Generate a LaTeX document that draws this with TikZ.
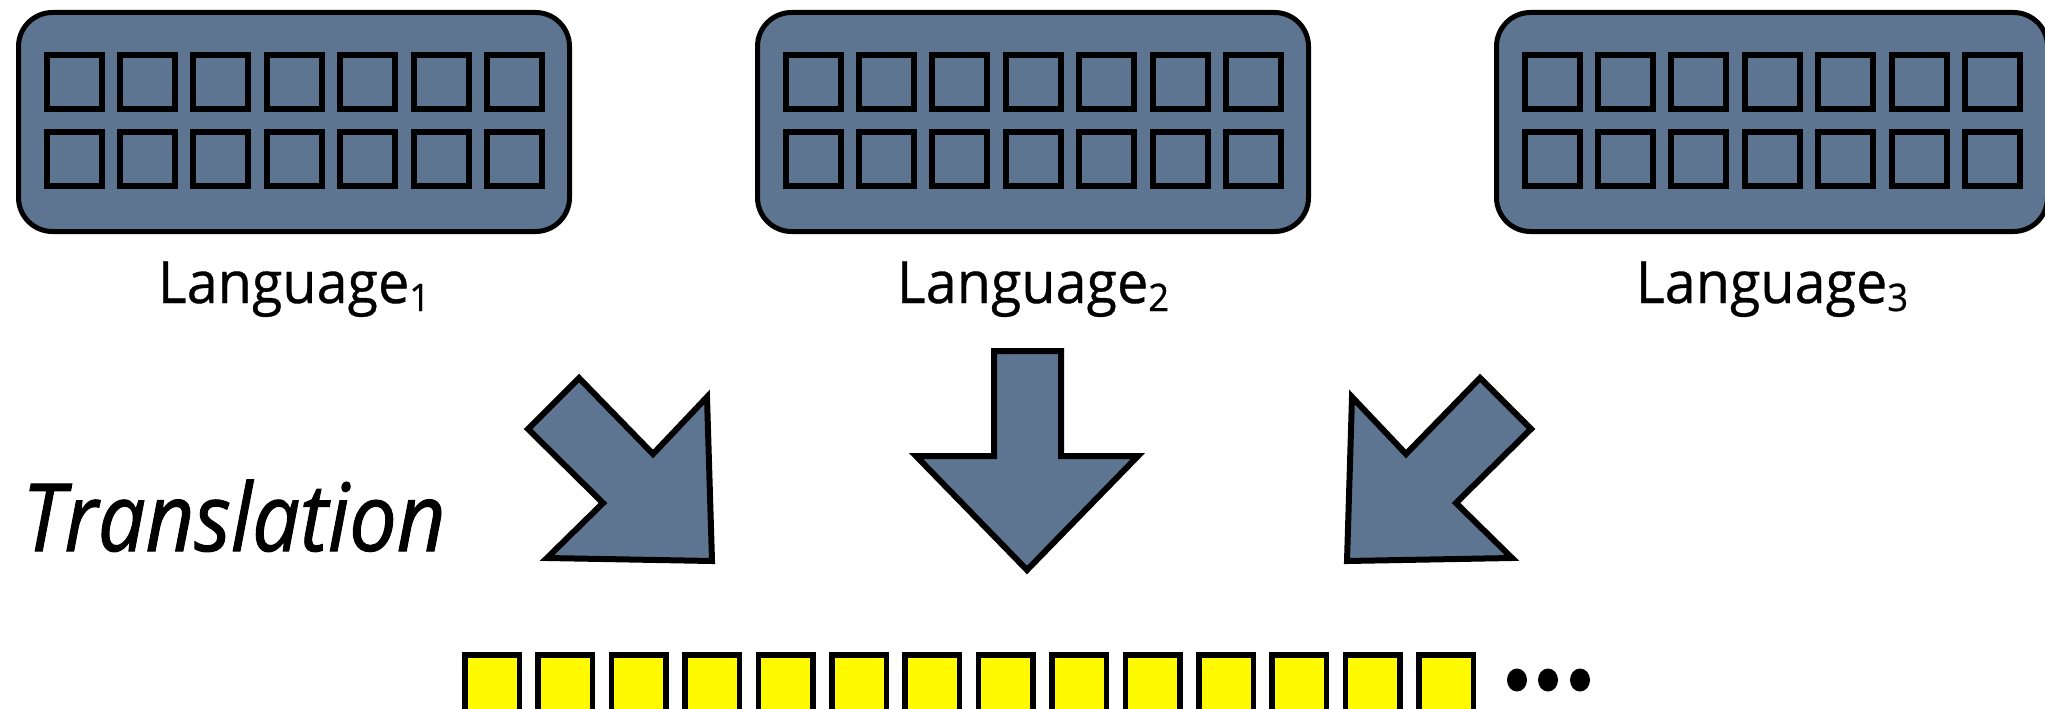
\documentclass[tikz,border=0pt]{standalone}
\usepackage{fontspec}
\usetikzlibrary{shapes.geometric}
\setmainfont{Open Sans}
\definecolor{slate}{HTML}{5E7592}
\definecolor{yel}{HTML}{FFFA00}
\begin{document}
\begin{tikzpicture}[x=1pt,y=-1pt,
  panel/.style={draw=black, line width=5pt, fill=slate, rounded corners=34pt, minimum width=551pt, minimum height=219pt, inner sep=0pt},
  cell/.style={draw=black, line width=6pt},
  ycell/.style={draw=black, line width=5.5pt, fill=yel},
  bigarrow/.style={draw=black, line width=6pt, fill=slate, line join=miter},
  lab/.style={font=\fontsize{58}{60}\selectfont\addfontfeature{FakeBold=0.6}, inner sep=0pt, anchor=base},
  dot/.style={fill=black, ellipse, minimum width=20pt, minimum height=23pt, inner sep=0pt}]
\useasboundingbox (0,0) rectangle (2045,709);
% language panels
\foreach \k/\n in {0/1,1/2,2/3}{
  \pgfmathsetmacro\L{16+739*\k}
  \node[panel] (lang\n) at (\L+278,122) {};
  \foreach \c in {0,...,6}{
    \pgfmathsetmacro\cx{\L+58+73.4*\c}
    \draw[cell] (\cx-27.5,55) rectangle (\cx+27.5,109);
    \draw[cell] (\cx-27.5,132) rectangle (\cx+27.5,186);
  }
  \node[lab] (label\n) at (\L+278,303) {\scalebox{0.96}[1]{Language\raisebox{-8pt}{\fontsize{38}{38}\selectfont\addfontfeature{FakeBold=0.6}\n}}};
}
% translation label
\node[anchor=base west, inner sep=0pt, font=\itshape\fontsize{94}{96}\selectfont\addfontfeature{FakeBold=1.2}] (trans) at (22,551) {\scalebox{0.9}[1]{Translation}};
% block arrows
\draw[bigarrow] (579,378) -- (528,429) -- (603,503) -- (547,558) -- (712,561) -- (707,397) -- (653,454) -- cycle;
\draw[bigarrow] (994,351) -- (1061,351) -- (1061,456) -- (1138,456) -- (1027,570) -- (916,456) -- (994,456) -- cycle;
\draw[bigarrow] (1480,378) -- (1531,429) -- (1456,503) -- (1512,558) -- (1347,561) -- (1352,397) -- (1406,454) -- cycle;
% yellow sequence
\foreach \i in {0,...,13}{
  \pgfmathsetmacro\yx{462+73.4*\i}
  \draw[ycell] (\yx+2.75,654.75) rectangle (\yx+57.25,740);
}
\node[dot] (d1) at (1517,680) {};
\node[dot] (d2) at (1548,680) {};
\node[dot] (d3) at (1580,680) {};
\end{tikzpicture}
\end{document}
